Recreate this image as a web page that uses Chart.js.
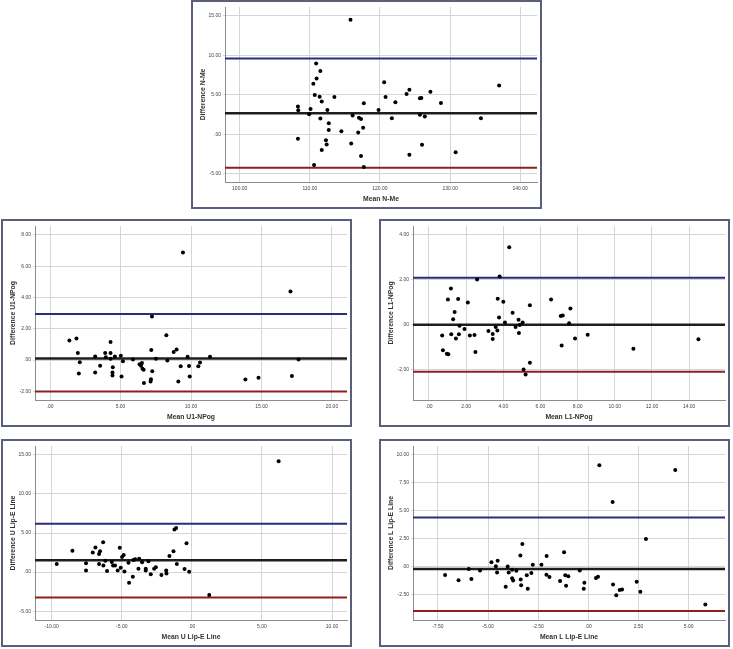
<!DOCTYPE html>
<html><head><meta charset="utf-8">
<script src="https://cdn.jsdelivr.net/npm/chart.js@4.4.1/dist/chart.umd.min.js"></script>
<style>
body{margin:0;background:#fff;width:733px;height:649px;position:relative;overflow:hidden}
.panel{position:absolute;box-sizing:border-box;border:2px solid #5a5f7c;width:351px;height:208px;background:#fff}
.panel canvas{display:block}
</style></head><body>
<div class="panel" style="left:191px;top:0;height:209px"><canvas id="c1" width="347" height="205"></canvas></div>
<div class="panel" style="left:1px;top:219px"><canvas id="c2" width="347" height="204"></canvas></div>
<div class="panel" style="left:379px;top:219px"><canvas id="c3" width="347" height="204"></canvas></div>
<div class="panel" style="left:1px;top:439px"><canvas id="c4" width="347" height="204"></canvas></div>
<div class="panel" style="left:379px;top:439px"><canvas id="c5" width="347" height="204"></canvas></div>
<script>
// ---------- Panel 1: N-Me ----------
const nmeMean = [115.8,110.9,111.5,110.96,110.5,110.7,111.4,111.7,113.5,108.3,108.35,110.1,109.9,112.5,111.5,112.7,112.7,114.5,108.3,112.3,112.4,111.7,110.6,116.1,117.0,117.3,117.6,116.9,115.9,117.3,117.7,117.7,119.8,120.6,120.8,122.2,121.7,123.8,124.2,125.7,125.9,127.2,125.7,126.4,124.2,126.0,128.7,130.8,134.4,137.0];
const nmeDiff = [14.5,8.96,8.0,7.04,6.38,4.96,4.75,4.13,4.7,3.5,3.04,3.2,2.54,3.08,2.0,1.38,0.54,0.38,-0.58,-0.75,-1.29,-2.0,-3.88,2.38,2.08,1.92,0.83,0.21,-1.17,-2.75,-4.13,3.92,3.08,6.58,4.71,4.04,2.04,5.08,5.63,4.54,4.58,5.38,2.46,2.25,-2.58,-1.33,3.96,-2.29,2.04,6.17];
const nmeLimits = [9.58, 2.67, -4.24];
const nmeXRange = [97.9, 142.4];
const nmeYRange = [-6.04, 16.1];
const nmeXTicks = [100,110,120,130,140];
const nmeYTicks = [-5,0,5,10,15];

// ---------- Panel 2: U1-NPog ----------
const u1Mean = [9.43,17.06,7.23,1.37,1.87,1.97,2.11,2.04,3.2,3.2,3.55,3.91,3.96,4.29,4.29,4.29,4.45,4.43,4.43,4.6,5.02,5.17,5.07,5.88,6.35,6.45,6.52,6.56,6.64,6.66,7.18,7.25,7.16,7.13,7.51,8.25,8.32,8.77,8.98,9.1,9.27,9.76,9.86,9.91,10.52,10.64,11.35,13.86,14.79,17.16,17.63];
const u1Diff = [6.88,4.38,2.79,1.26,1.38,0.46,-0.13,-0.86,0.23,-0.8,-0.36,0.46,0.19,1.15,0.46,0.08,-0.46,-0.8,-0.99,0.23,0.27,-0.08,-1.05,0.04,-0.27,-0.36,-0.19,-0.55,-0.61,-1.47,0.65,-0.71,-1.22,-1.36,0.08,1.59,-0.02,0.52,0.67,-1.36,-0.4,0.21,-0.38,-1.05,-0.4,-0.15,0.21,-1.24,-1.13,-1.01,0.04];
const u1Limits = [2.94, 0.10, -2.01];
const u1XRange = [-1.07, 21.07];
const u1YRange = [-2.55, 8.57];
const u1XTicks = [0,5,10,15,20];
const u1YTicks = [-2,0,2,4,6,8];

// ---------- Panel 3: L1-NPog ----------
const l1Mean = [4.32,3.8,2.59,1.18,1.02,1.57,2.09,1.38,1.3,1.64,1.91,1.61,1.2,1.45,0.71,0.75,0.96,1.04,2.2,2.45,2.5,3.2,3.43,3.43,3.59,3.68,3.7,3.77,4.0,4.09,4.5,4.66,4.82,4.84,4.88,5.04,5.43,5.43,5.09,5.2,6.57,7.09,7.2,7.61,7.54,7.14,7.86,8.54,11.0,14.5];
const l1Diff = [3.45,2.15,2.01,1.61,1.12,1.15,0.99,0.57,0.25,-0.04,-0.19,-0.42,-0.42,-0.61,-0.48,-1.13,-1.28,-1.31,-0.48,-0.45,-1.21,-0.28,-0.41,-0.63,-0.1,-0.25,1.16,0.32,1.03,0.1,0.54,-0.1,0.23,-0.36,-0.01,0.1,0.87,-1.69,-1.98,-2.21,1.12,0.39,0.41,0.73,0.07,-0.92,-0.61,-0.44,-1.06,-0.64];
const l1Limits = [2.09, 0.0, -2.08];
const l1XRange = [-0.86, 15.93];
const l1YRange = [-3.34, 4.39];
const l1XTicks = [0,2,4,6,8,10,12,14];
const l1YTicks = [-2,0,2,4];

// ---------- Panel 4: U Lip-E Line ----------
const uLipMean = [6.19,-9.64,-8.52,-7.55,-7.55,-7.07,-6.88,-6.62,-6.55,-6.62,-6.31,-6.33,-6.17,-6.05,-5.71,-5.62,-5.48,-5.29,-5.14,-5.07,-4.98,-4.86,-4.81,-4.52,-4.48,-4.21,-4.17,-4.05,-3.81,-3.76,-3.55,-3.29,-3.29,-3.1,-2.93,-2.69,-2.57,-2.17,-1.83,-1.81,-1.6,-1.31,-1.24,-1.12,-1.07,-0.52,-0.38,-0.19,1.24];
const uLipDiff = [14.18,1.05,2.72,1.13,0.21,2.51,3.14,2.3,2.68,1.05,0.84,3.81,1.46,0.13,1.3,0.84,0.84,0.21,3.1,0.54,1.92,2.18,0.08,1.21,-1.38,-0.59,1.55,1.63,0.42,1.72,1.26,0.42,0.21,1.38,-0.29,0.42,0.63,-0.38,0.21,-0.17,2.05,2.68,5.44,5.65,1.05,0.38,3.68,0.04,-2.93];
const uLipLimits = [6.19, 1.51, -3.26];
const uLipXRange = [-11.19, 11.07];
const uLipYRange = [-6.13, 16.13];
const uLipXTicks = [-10,-5,0,5,10];
const uLipYTicks = [-5,0,5,10,15];

// ---------- Panel 5: L Lip-E Line ----------
const lLipMean = [0.55,4.33,1.21,2.87,-3.29,-3.39,-2.08,-1.21,-4.83,-4.52,-4.61,-4.02,-2.77,-2.34,-5.96,-5.4,-7.14,-6.47,-5.83,-4.55,-3.97,-3.8,-3.59,-3.8,-3.75,-4.12,-3.37,-3.35,-3.07,-3.02,-2.84,-2.09,-1.94,-1.41,-1.15,-1.0,-1.11,-0.43,-0.2,-0.23,0.38,0.48,1.23,1.39,1.56,1.68,2.41,2.59,5.83];
const lLipDiff = [9.08,8.64,5.78,2.48,2.04,1.02,0.96,1.31,0.41,0.55,0.06,0.03,0.18,0.18,-0.2,-0.32,-0.73,-1.2,-1.08,-0.5,-0.5,-0.26,-0.35,-1.02,-1.23,-1.78,-1.14,-1.64,-0.76,-1.96,-0.55,-0.7,-0.91,-1.26,-0.76,-0.85,-1.69,-0.32,-1.43,-1.96,-0.99,-0.88,-1.58,-2.54,-2.07,-2.02,-1.34,-2.22,-3.36];
const lLipLimits = [4.41, -0.20, -3.94];
const lLipXRange = [-8.74, 6.81];
const lLipYRange = [-4.75, 10.79];
const lLipXTicks = [-7.5,-5,-2.5,0,2.5,5];
const lLipYTicks = [-2.5,0,2.5,5,7.5,10];

const FONT = "Arial, 'Liberation Sans', sans-serif";
const fmt = v => (Math.abs(v) < 1e-9 ? '.00' : Number(v).toFixed(2));
const lineColors = ['#2a2d7e', '#1e1e1e', '#8e1f1f'];
const lineWidths = [2, 2.5, 2];

function makePanel(id, xs, ys, limits, xRange, yRange, xTicks, yTicks, xTitle, yTitle) {
  const pts = xs.map((x, i) => ({x: x, y: ys[i]}));
  const datasets = [{
    type: 'scatter', data: pts, pointRadius: 2, pointHoverRadius: 2,
    backgroundColor: '#000', borderWidth: 0, showLine: false, order: 0
  }];
  limits.forEach((v, i) => {
    datasets.push({
      type: 'line',
      data: [{x: xRange[0], y: v}, {x: xRange[1], y: v}],
      borderColor: lineColors[i], borderWidth: lineWidths[i],
      pointRadius: 0, fill: false, order: 1
    });
  });
  new Chart(document.getElementById(id), {
    data: {datasets},
    options: {
      responsive: false, animation: false, devicePixelRatio: 1,
      layout: {padding: {left: 0, right: 3, top: 2, bottom: 0}},
      plugins: {legend: {display: false}, tooltip: {enabled: false}},
      scales: {
        x: {
          type: 'linear', min: xRange[0], max: xRange[1],
          afterBuildTicks: s => { s.ticks = xTicks.map(v => ({value: v})); },
          afterFit: s => { s.height = 25; },
          ticks: {callback: fmt, font: {family: FONT, size: 5}, color: '#444', padding: 3, maxRotation: 0, autoSkip: false},
          grid: {color: '#d5d5d5', lineWidth: 1, tickLength: 1, drawTicks: true},
          border: {color: '#8c8c8c', width: 1},
          title: {display: true, text: xTitle, color: '#333', font: {family: FONT, size: 6.8, weight: 'bold'}, padding: {top: 0, bottom: 3.6}}
        },
        y: {
          type: 'linear', min: yRange[0], max: yRange[1],
          afterBuildTicks: s => { s.ticks = yTicks.map(v => ({value: v})); },
          afterFit: s => { s.width = 32; },
          ticks: {callback: fmt, font: {family: FONT, size: 5}, color: '#444', padding: 2, autoSkip: false},
          grid: {color: '#d5d5d5', lineWidth: 1, tickLength: 2, drawTicks: true},
          border: {color: '#8c8c8c', width: 1},
          title: {display: true, text: yTitle, color: '#333', font: {family: FONT, size: 6.8, weight: 'bold'}, padding: {top: 6, bottom: 0}}
        }
      }
    }
  });
}

makePanel('c1', nmeMean, nmeDiff, nmeLimits, nmeXRange, nmeYRange, nmeXTicks, nmeYTicks, 'Mean N-Me', 'Difference N-Me');
makePanel('c2', u1Mean, u1Diff, u1Limits, u1XRange, u1YRange, u1XTicks, u1YTicks, 'Mean U1-NPog', 'Difference U1-NPog');
makePanel('c3', l1Mean, l1Diff, l1Limits, l1XRange, l1YRange, l1XTicks, l1YTicks, 'Mean L1-NPog', 'Difference L1-NPog');
makePanel('c4', uLipMean, uLipDiff, uLipLimits, uLipXRange, uLipYRange, uLipXTicks, uLipYTicks, 'Mean U Lip-E Line', 'Difference U Lip-E Line');
makePanel('c5', lLipMean, lLipDiff, lLipLimits, lLipXRange, lLipYRange, lLipXTicks, lLipYTicks, 'Mean L Lip-E Line', 'Difference L Lip-E Line');
</script>
</body></html>
